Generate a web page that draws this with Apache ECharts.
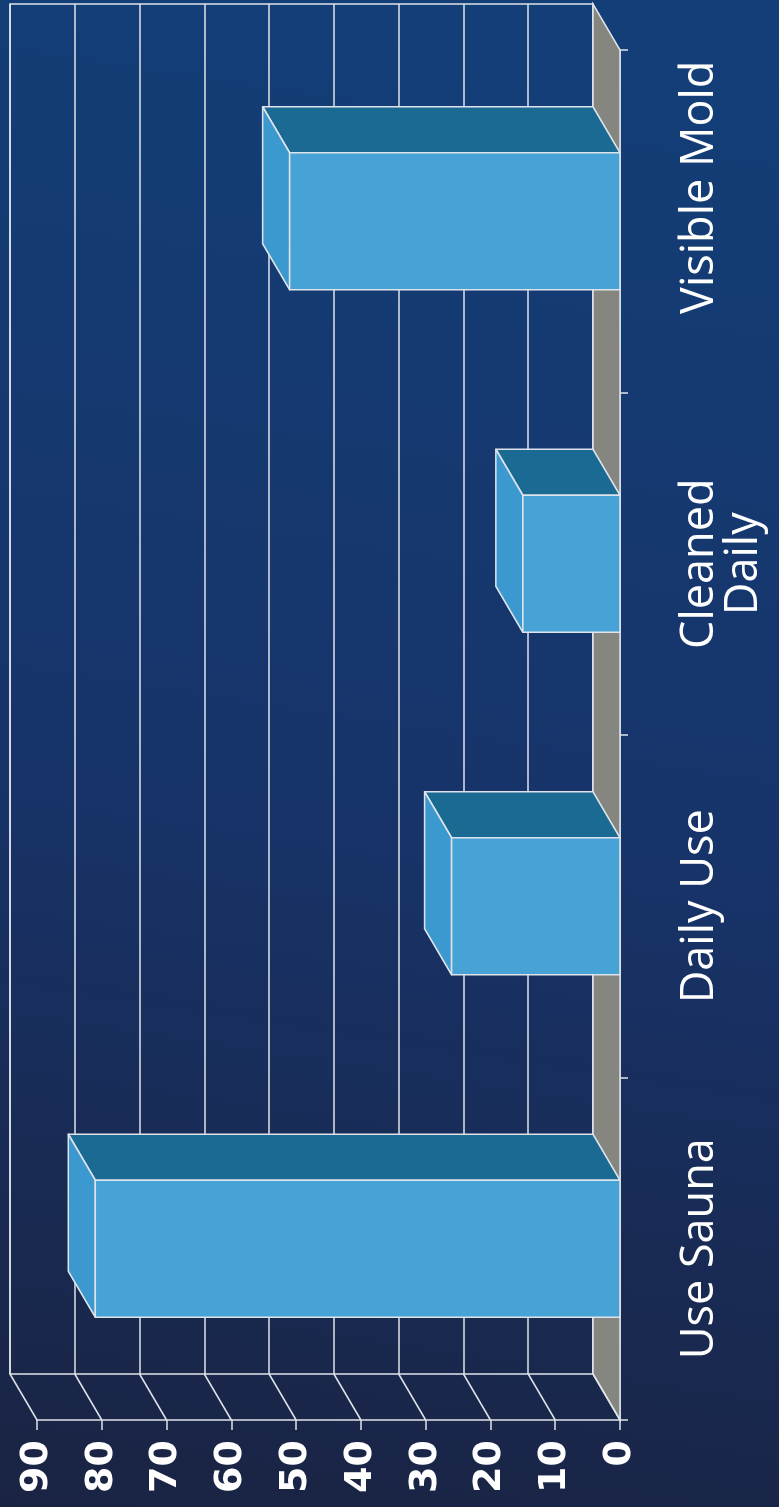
<!DOCTYPE html>
<html>
<head>
<meta charset="utf-8">
<title>Sauna survey</title>
<script src="https://cdn.jsdelivr.net/npm/echarts@6/dist/echarts.min.js"></script>
<style>
  html, body { margin: 0; padding: 0; background: #172b52; }
  #chart { width: 779px; height: 1507px; }
</style>
</head>
<body>
<div id="chart"></div>
<script>
// Survey answers, bottom to top along the category axis
const categories = ['Use Sauna', 'Daily Use', 'Cleaned\nDaily', 'Visible Mold'];
const values = [81, 26, 15, 51];
// Value axis ticks (used for the side-wall guide lines)
const valueTicks = [0, 10, 20, 30, 40, 50, 60, 70, 80, 90];

// Depth of the 3D box: back plane = front plane shifted by (-DX, -DY)
const DX = 27;
const DY = 46;
const BAR_RATIO = 0.4;

const LINE = '#dfe4ea';
const FRONT = '#47a3d6';
const SIDE = '#3b99cf';
const TOP = '#1b6a93';
const FLOOR = '#85867f';

const chart = echarts.init(document.getElementById('chart'));

function renderBar(params, api) {
  const v = api.value(0);
  const c = api.value(1);
  const base = api.coord([0, c]);
  const tip = api.coord([v, c]);
  const band = api.size([0, 1])[1];
  const w = band * BAR_RATIO;
  const yT = base[1] - w / 2;
  const yB = base[1] + w / 2;
  const xR = base[0];
  const xL = tip[0];
  const edge = { stroke: LINE, lineWidth: 1.5, lineJoin: 'round' };
  return {
    type: 'group',
    children: [
      { type: 'polygon', shape: { points: [[xL, yT], [xR, yT], [xR - DX, yT - DY], [xL - DX, yT - DY]] },
        style: Object.assign({ fill: TOP }, edge) },
      { type: 'polygon', shape: { points: [[xL, yT], [xL, yB], [xL - DX, yB - DY], [xL - DX, yT - DY]] },
        style: Object.assign({ fill: SIDE }, edge) },
      { type: 'rect', shape: { x: xL, y: yT, width: xR - xL, height: w },
        style: Object.assign({ fill: FRONT }, edge) }
    ]
  };
}

// Gray floor strip between the front and back planes at value 0
function renderFloor(params, api) {
  const cs = params.coordSys;
  const x0 = api.coord([api.value(0), 0])[0];
  const top = cs.y;
  const bottom = cs.y + cs.height;
  return {
    type: 'polygon',
    shape: { points: [[x0, top], [x0, bottom], [x0 - DX, bottom - DY], [x0 - DX, top - DY]] },
    style: { fill: FLOOR, stroke: LINE, lineWidth: 1.5 }
  };
}

// Diagonal guide lines on the side wall, one per value tick
function renderWall(params, api) {
  const cs = params.coordSys;
  const x = api.coord([api.value(0), 0])[0];
  const y = cs.y + cs.height;
  return {
    type: 'line',
    shape: { x1: x, y1: y, x2: x - DX, y2: y - DY },
    style: { stroke: LINE, lineWidth: 1.5 }
  };
}

const FRONT_GRID = { left: 37, right: 159, top: 50, bottom: 87 };
const BACK_GRID = {
  left: FRONT_GRID.left - DX, right: FRONT_GRID.right + DX,
  top: FRONT_GRID.top - DY, bottom: FRONT_GRID.bottom + DY
};

const valueAxisBase = { type: 'value', inverse: true, min: 0, max: 90, interval: 10 };

// The top label sits a little above its band centre
const categoryItems = categories.map(name =>
  name === 'Visible Mold'
    ? { value: name, textStyle: { padding: [0, 0, 0, 68] } }
    : name
);

chart.setOption({
  animation: false,
  backgroundColor: {
    type: 'linear', x: 0.3, y: 0, x2: 0, y2: 1,
    colorStops: [
      { offset: 0, color: '#133e77' },
      { offset: 0.5, color: '#17346a' },
      { offset: 1, color: '#1a2342' }
    ]
  },
  grid: [
    Object.assign({ containLabel: false }, FRONT_GRID),
    Object.assign({ containLabel: false, show: true, borderColor: LINE, borderWidth: 1.5,
      backgroundColor: 'transparent' }, BACK_GRID)
  ],
  xAxis: [
    Object.assign({}, valueAxisBase, {
      gridIndex: 0,
      position: 'bottom',
      axisLine: { show: true, lineStyle: { color: LINE, width: 1.5 } },
      axisTick: { show: true, length: 10, lineStyle: { color: LINE, width: 1.5 } },
      splitLine: { show: false },
      axisLabel: {
        rotate: 90, margin: 20, color: '#ffffff',
        fontFamily: 'DejaVu Sans', fontWeight: 'bold', fontSize: 38
      }
    }),
    Object.assign({}, valueAxisBase, {
      gridIndex: 1,
      axisLine: { show: false },
      axisTick: { show: false },
      axisLabel: { show: false },
      splitLine: { show: true, lineStyle: { color: LINE, width: 1.5 } }
    })
  ],
  yAxis: [
    {
      type: 'category', gridIndex: 0, data: categoryItems, position: 'right',
      axisLine: { show: true, lineStyle: { color: LINE, width: 1.5 } },
      axisTick: { show: true, length: 8, lineStyle: { color: LINE, width: 1.5 } },
      splitLine: { show: false },
      axisLabel: {
        rotate: 90, margin: 58, color: '#ffffff',
        fontFamily: 'Open Sans', fontSize: 45, lineHeight: 44
      }
    },
    {
      type: 'category', gridIndex: 1, data: categories,
      axisLine: { show: false }, axisTick: { show: false },
      axisLabel: { show: false }, splitLine: { show: false }
    }
  ],
  series: [
    {
      type: 'custom', name: 'floor', xAxisIndex: 0, yAxisIndex: 0, z: 3,
      renderItem: renderFloor, data: [[0]], encode: { x: 0 }, silent: true
    },
    {
      type: 'custom', name: 'wall', xAxisIndex: 0, yAxisIndex: 0, z: 3,
      renderItem: renderWall, data: valueTicks.map(v => [v]), encode: { x: 0 }, silent: true
    },
    {
      type: 'custom', name: 'answers', xAxisIndex: 0, yAxisIndex: 0, z: 5,
      renderItem: renderBar,
      encode: { x: 0, y: 1 },
      data: values.map((v, i) => [v, i])
    }
  ]
});
</script>
</body>
</html>
